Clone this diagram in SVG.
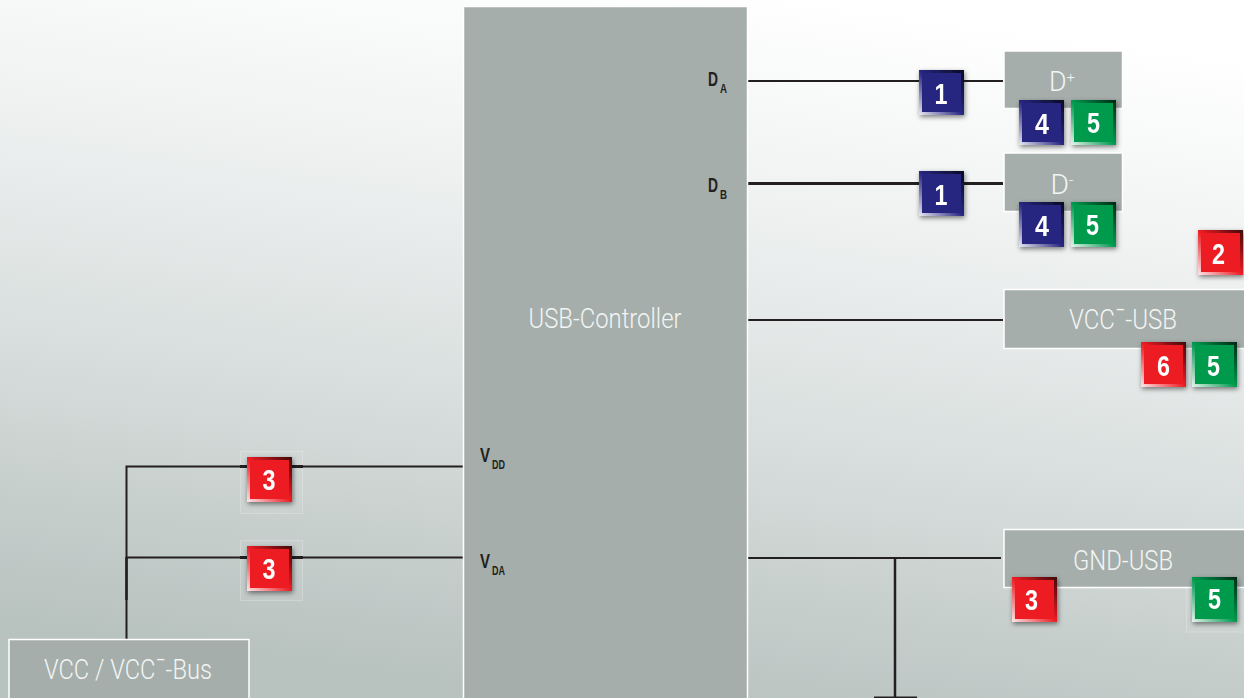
<svg xmlns="http://www.w3.org/2000/svg" width="1244" height="698" viewBox="0 0 1244 698">
<style>
.n{fill:#a5aeab;stroke:#fff;stroke-width:1.5}
.l{font-family:Roboto,"Liberation Sans",sans-serif;font-weight:300;fill:#f2f5f4;text-anchor:middle;font-size:27px}
.s{font-family:"Liberation Sans",sans-serif;font-weight:700;fill:#231f20;font-size:21px}
.u{font-family:"Liberation Sans",sans-serif;font-weight:700;fill:#231f20;font-size:12.500px}
.d{font-family:"Liberation Sans",sans-serif;font-weight:700;fill:#fff;text-anchor:middle;font-size:29px}
.w{stroke:#231f20;stroke-width:2;fill:none}
.fb{fill:#fff;fill-opacity:.04;stroke:#fff;stroke-opacity:.22;stroke-width:1}
</style>
<defs>
<linearGradient id="bg" gradientUnits="userSpaceOnUse" x1="670" y1="-20" x2="570" y2="698">
<stop offset="0" stop-color="#ffffff"/><stop offset=".3" stop-color="#eff1f1"/><stop offset=".6" stop-color="#d9dfde"/><stop offset="1" stop-color="#b8c2bf"/>
</linearGradient>
<linearGradient id="lb" x1="0" y1="1" x2="1" y2="0"><stop offset="0" stop-color="#fff" stop-opacity=".9"/><stop offset=".5" stop-color="#fff" stop-opacity="0"/></linearGradient>
<linearGradient id="tr" x1="1" y1="0" x2="0" y2="1"><stop offset="0" stop-color="#000" stop-opacity=".75"/><stop offset=".5" stop-color="#000" stop-opacity="0"/></linearGradient>
<filter id="sh" x="-20%" y="-20%" width="150%" height="150%"><feDropShadow dx="1" dy="2" stdDeviation="2.500" flood-color="#000" flood-opacity=".5"/></filter>
<g id="bev">
<path d="M0 0H3V42H45V45H0Z" fill="url(#lb)"/>
<path d="M0 0H45V45H42V3H0Z" fill="url(#tr)"/>
</g>
<rect id="bR" width="45" height="45" fill="#ed1c24"/>
<rect id="bB" width="45" height="45" fill="#262680"/>
<rect id="bG" width="45" height="45" fill="#009a4e"/>
</defs>
<rect id="background" width="1244" height="698" fill="url(#bg)"/>

<g id="faint-frames">
<rect class="fb" x="240.500" y="451.500" width="62" height="62"/>
<rect class="fb" x="240.500" y="540.500" width="62" height="60"/>
<rect class="fb" x="1186.500" y="586" width="58" height="46"/>
</g>

<g id="connectors">
<path class="w" d="M748 81H1003"/>
<path class="w" style="stroke-width:3" d="M748 183.500H1003"/>
<path class="w" d="M748 320H1003"/>
<path class="w" d="M748 558H1001"/>
<path class="w" style="stroke-width:2.500" d="M895 558V697"/>
<path class="w" d="M874 697.500H917"/>
<path class="w" d="M463 466.500H126.500V639"/>
<path class="w" d="M463 557.500H126.500"/>
<path class="w" style="stroke-width:2.500" d="M126.500 557V600"/>
<path class="w" style="stroke-width:3" d="M240 466.500H303M240 557.500H303"/>
</g>

<g id="usb-controller">
<rect class="n" x="463.500" y="6.500" width="284" height="693"/>
<text class="l" x="605" y="328" textLength="153" lengthAdjust="spacingAndGlyphs">USB-Controller</text>
<text class="s" x="708" y="86" textLength="10" lengthAdjust="spacingAndGlyphs">D</text><text class="u" x="720" y="93" textLength="7" lengthAdjust="spacingAndGlyphs">A</text>
<text class="s" x="708" y="192" textLength="10" lengthAdjust="spacingAndGlyphs">D</text><text class="u" x="720" y="199" textLength="7" lengthAdjust="spacingAndGlyphs">B</text>
<text class="s" x="480" y="462" textLength="10" lengthAdjust="spacingAndGlyphs">V</text><text class="u" x="492" y="469" textLength="13" lengthAdjust="spacingAndGlyphs">DD</text>
<text class="s" x="480" y="568" textLength="10" lengthAdjust="spacingAndGlyphs">V</text><text class="u" x="492" y="575" textLength="13" lengthAdjust="spacingAndGlyphs">DA</text>
</g>

<g id="d-plus">
<rect class="n" x="1004" y="51" width="118.500" height="57.500"/>
<text class="l" x="1062" y="91" textLength="26" lengthAdjust="spacingAndGlyphs">D<tspan font-size="15" dy="-9">+</tspan></text>
</g>
<g id="d-minus">
<rect class="n" x="1004" y="153" width="118.500" height="58.500"/>
<text class="l" x="1062" y="194" textLength="23" lengthAdjust="spacingAndGlyphs">D<tspan font-size="15" dy="-9">-</tspan></text>
</g>
<g id="vcc-usb">
<rect class="n" x="1004" y="289.500" width="242" height="59"/>
<text class="l" x="1123" y="329" textLength="108" lengthAdjust="spacingAndGlyphs">VCC¯-USB</text>
</g>
<g id="gnd-usb">
<rect class="n" x="1004" y="529.500" width="242" height="58"/>
<text class="l" x="1123" y="570" textLength="100" lengthAdjust="spacingAndGlyphs">GND-USB</text>
</g>
<g id="vcc-bus">
<rect class="n" x="9" y="639.500" width="240" height="62"/>
<text class="l" x="128" y="679" textLength="168" lengthAdjust="spacingAndGlyphs">VCC / VCC¯-Bus</text>
</g>

<g id="badge-1a" transform="translate(919 70)" filter="url(#sh)"><use href="#bB"/><use href="#bev"/><text class="d" x="22" y="34" textLength="13" lengthAdjust="spacingAndGlyphs">1</text></g>
<g id="badge-1b" transform="translate(919 171)" filter="url(#sh)"><use href="#bB"/><use href="#bev"/><text class="d" x="22" y="34" textLength="13" lengthAdjust="spacingAndGlyphs">1</text></g>
<g id="badge-4a" transform="translate(1019 100)" filter="url(#sh)"><use href="#bB"/><use href="#bev"/><text class="d" x="23" y="34" textLength="14" lengthAdjust="spacingAndGlyphs">4</text></g>
<g id="badge-5a" transform="translate(1071 100)" filter="url(#sh)"><use href="#bG"/><use href="#bev"/><text class="d" x="22.500" y="33" textLength="13" lengthAdjust="spacingAndGlyphs">5</text></g>
<g id="badge-4b" transform="translate(1019 202)" filter="url(#sh)"><use href="#bB"/><use href="#bev"/><text class="d" x="23" y="34" textLength="14" lengthAdjust="spacingAndGlyphs">4</text></g>
<g id="badge-5b" transform="translate(1071 202)" filter="url(#sh)"><use href="#bG"/><use href="#bev"/><text class="d" x="21.500" y="33" textLength="13" lengthAdjust="spacingAndGlyphs">5</text></g>
<g id="badge-2" transform="translate(1198 230)" filter="url(#sh)"><use href="#bR"/><use href="#bev"/><text class="d" x="20.500" y="34" textLength="13" lengthAdjust="spacingAndGlyphs">2</text></g>
<g id="badge-6" transform="translate(1141 342)" filter="url(#sh)"><use href="#bR"/><use href="#bev"/><text class="d" x="22.500" y="34" textLength="13" lengthAdjust="spacingAndGlyphs">6</text></g>
<g id="badge-5c" transform="translate(1192 342)" filter="url(#sh)"><use href="#bG"/><use href="#bev"/><text class="d" x="21.500" y="34" textLength="13" lengthAdjust="spacingAndGlyphs">5</text></g>
<g id="badge-3c" transform="translate(1012 577)" filter="url(#sh)"><use href="#bR"/><use href="#bev"/><text class="d" x="19.500" y="33" textLength="13" lengthAdjust="spacingAndGlyphs">3</text></g>
<g id="badge-5d" transform="translate(1192 577)" filter="url(#sh)"><use href="#bG"/><use href="#bev"/><text class="d" x="22.500" y="32" textLength="13" lengthAdjust="spacingAndGlyphs">5</text></g>
<g id="badge-3a" transform="translate(247 457)" filter="url(#sh)"><use href="#bR"/><use href="#bev"/><text class="d" x="22" y="33" textLength="13" lengthAdjust="spacingAndGlyphs">3</text></g>
<g id="badge-3b" transform="translate(247 546)" filter="url(#sh)"><use href="#bR"/><use href="#bev"/><text class="d" x="22" y="33" textLength="13" lengthAdjust="spacingAndGlyphs">3</text></g>
</svg>
